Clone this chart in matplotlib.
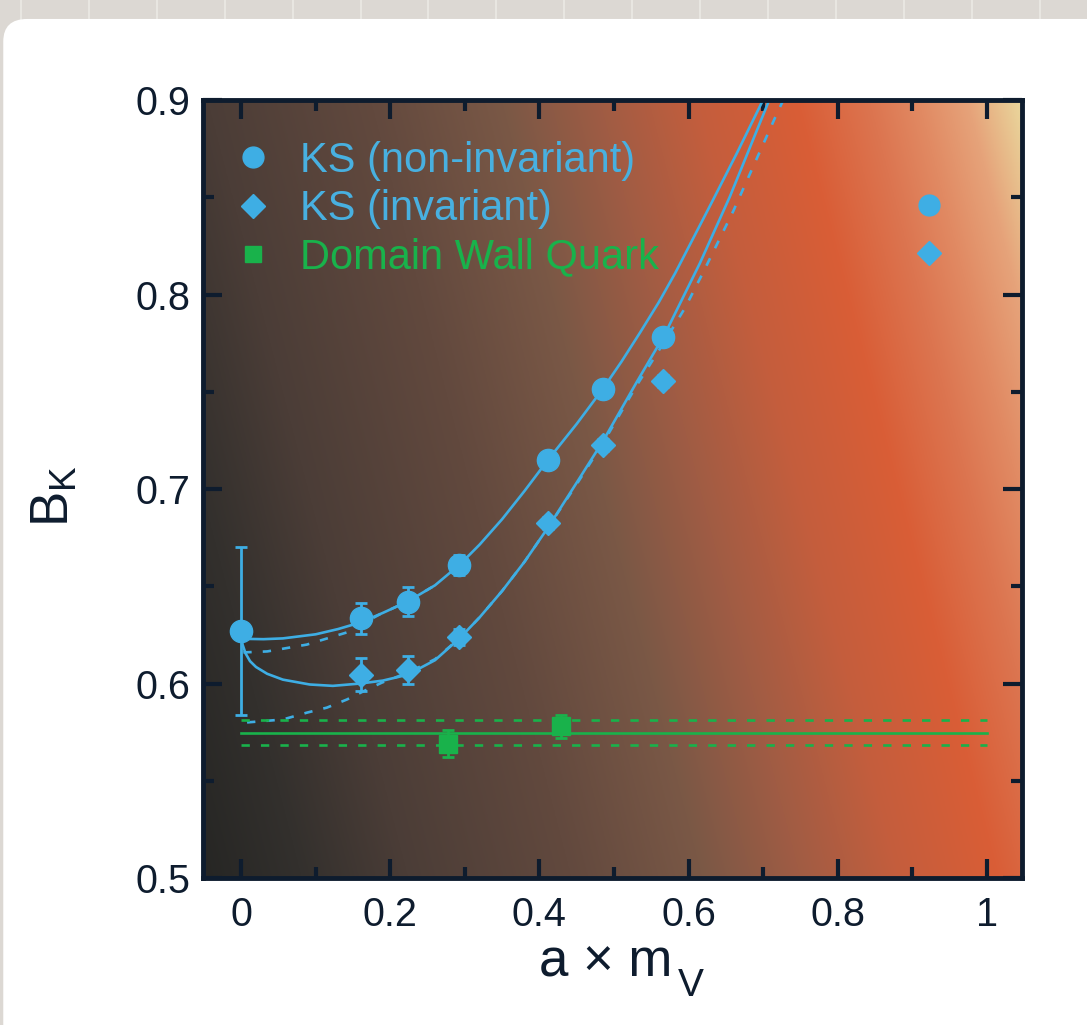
import numpy as np
import matplotlib
matplotlib.use('Agg')
import matplotlib.pyplot as plt
from matplotlib.patches import FancyBboxPatch
from matplotlib.lines import Line2D
from matplotlib.ticker import MultipleLocator

plt.rcParams['font.family'] = ['Liberation Sans', 'DejaVu Sans']
plt.rcParams['mathtext.fontset'] = 'custom'
plt.rcParams['mathtext.rm'] = 'Liberation Sans'
plt.rcParams['mathtext.it'] = 'Liberation Sans:italic'
plt.rcParams['lines.scale_dashes'] = False

# KS (non-invariant) points
ks_x = [0.161, 0.224, 0.292, 0.4115, 0.485, 0.566]
ks_y = [0.6335, 0.642, 0.661, 0.715, 0.7515, 0.778]
ks_err = [0.008, 0.0075, 0.005, 0.004, 0.003, 0.003]
# continuum value at a*mV = 0
ks0_x = [0.0]
ks0_y = [0.627]
ks0_err = [0.043]
# KS (invariant) points
ksi_x = [0.161, 0.224, 0.292, 0.4115, 0.485, 0.566]
ksi_y = [0.6046, 0.607, 0.624, 0.6825, 0.7227, 0.7557]
ksi_err = [0.0085, 0.007, 0.004, 0.003, 0.003, 0.003]
# Domain wall quark points and fit band
dwq_x = [0.2775, 0.429]
dwq_y = [0.569, 0.578]
dwq_err = [0.007, 0.006]
dwq_fit_x = [0.0, 1.0]
dwq_fit = [0.5747, 0.5747]
dwq_lo = [0.5686, 0.5686]
dwq_hi = [0.5814, 0.5814]
# extra markers at the right
extra_circ_x = [0.922]
extra_circ_y = [0.8459]
extra_diam_x = [0.922]
extra_diam_y = [0.8216]

# fit curves
fitA_x = [0.0, 0.03, 0.056, 0.1, 0.13, 0.16, 0.19, 0.224, 0.26, 0.2936, 0.32, 0.35, 0.38,
          0.4115, 0.45, 0.485, 0.51, 0.535, 0.56, 0.582, 0.63, 0.665, 0.7]
fitA_y = [0.623, 0.6228, 0.6232, 0.6253, 0.628, 0.6314, 0.6363, 0.6423, 0.6505, 0.6613, 0.6715,
          0.6845, 0.699, 0.715, 0.7335, 0.7515, 0.7655, 0.7805, 0.796, 0.811, 0.8466, 0.8729, 0.9002]
fitA_dash_x = [0.003, 0.035, 0.088, 0.142, 0.186, 0.224, 0.26]
fitA_dash_y = [0.616, 0.6165, 0.620, 0.6263, 0.6356, 0.6423, 0.6505]
fitB_x = [0.0, 0.002, 0.006, 0.012, 0.02, 0.035, 0.056, 0.092, 0.123, 0.16, 0.19, 0.223,
          0.26, 0.2936, 0.32, 0.35, 0.38, 0.4115, 0.45, 0.485, 0.53, 0.568, 0.615, 0.6555, 0.7065]
fitB_y = [0.626, 0.620, 0.6155, 0.6115, 0.6085, 0.605, 0.602, 0.5995, 0.5988, 0.600, 0.6015,
          0.6045, 0.612, 0.6235, 0.6341, 0.6476, 0.6626, 0.6802, 0.7033, 0.7245, 0.7547,
          0.7795, 0.816, 0.8505, 0.8985]
fitB_dash_x = [0.008, 0.056, 0.088, 0.115, 0.142, 0.164, 0.189, 0.223, 0.26, 0.2936, 0.32,
               0.35, 0.38, 0.4115, 0.45, 0.485, 0.53, 0.568, 0.595, 0.619, 0.66, 0.716, 0.727]
fitB_dash_y = [0.580, 0.5815, 0.585, 0.5876, 0.5918, 0.596, 0.6005, 0.6055, 0.6125, 0.6235,
               0.6341, 0.6476, 0.6626, 0.6802, 0.7025, 0.7235, 0.753, 0.776, 0.793, 0.811,
               0.843, 0.891, 0.9]

labels = ['KS (non-invariant)', 'KS (invariant)', 'Domain Wall Quark']

blue = '#3eaee4'
blue_txt = '#48b0e0'
green = '#19b24b'
navy = '#0e1c2e'

fig = plt.figure(figsize=(10.87, 10.25), dpi=100)
fig.patch.set_facecolor('#dcd8d3')
# page grid behind the card
for gx in np.arange(21, 1087, 67.9):
    fig.add_artist(Line2D([gx / 1087, gx / 1087], [0.97, 1.0], color='#ebe9e5', lw=1.2,
                          transform=fig.transFigure, zorder=-20))
card = FancyBboxPatch((0.003, -0.05), 1.05, 1.0315, boxstyle='round,pad=0,rounding_size=0.022',
                      transform=fig.transFigure, facecolor='white', edgecolor='none', zorder=-10)
fig.add_artist(card)

ax = fig.add_axes([0.1868, 0.1434, 0.7534, 0.759])
xlim = (-0.051, 1.047)
ylim = (0.5, 0.9)

# background gradient
u, v = np.meshgrid(np.linspace(0, 1, 500), np.linspace(0, 1, 400))
s = u + 0.245 * v
stops = [0, 0.12, 0.25, 0.45, 0.61, 0.73, 0.85, 0.97, 1.06, 1.12, 1.18, 1.25]
cols = ['#262624', '#33302d', '#4b3d37', '#62493e', '#7a5846', '#a05c44', '#c45e3d',
        '#d95d36', '#dc7550', '#e18a63', '#e6a37a', '#eadb9f']
rgb = np.array([matplotlib.colors.to_rgb(c) for c in cols])
img = np.dstack([np.interp(s, stops, rgb[:, k]) for k in range(3)])
ax.imshow(img, extent=(xlim[0], xlim[1], ylim[0], ylim[1]), origin='lower', aspect='auto', zorder=0)

lw = 1.9
ax.plot(fitA_x, fitA_y, color=blue, lw=lw, zorder=2)
ax.plot(fitB_x, fitB_y, color=blue, lw=lw, zorder=2)
ax.plot(fitA_dash_x, fitA_dash_y, color=blue, lw=lw, dashes=(6, 8), zorder=2)
ax.plot(fitB_dash_x, fitB_dash_y, color=blue, lw=lw, dashes=(6, 8), zorder=2)

ax.plot(dwq_fit_x, dwq_fit, color=green, lw=lw, zorder=2)
ax.plot(dwq_fit_x, dwq_lo, color=green, lw=lw, dashes=(6, 8), zorder=2)
ax.plot(dwq_fit_x, dwq_hi, color=green, lw=lw, dashes=(6, 8), zorder=2)

eb = dict(elinewidth=2, capsize=4.5, capthick=2, zorder=4, linestyle='none')
ax.errorbar(ks0_x, ks0_y, yerr=ks0_err, fmt='o', ms=16, color=blue, **eb)
ax.errorbar(ks_x, ks_y, yerr=ks_err, fmt='o', ms=16, color=blue, **eb)
ax.errorbar(ksi_x, ksi_y, yerr=ksi_err, fmt='D', ms=12.5, color=blue, **eb)
ax.errorbar(dwq_x, dwq_y, yerr=dwq_err, fmt='s', ms=13, color=green, **eb)
ax.plot(extra_circ_x, extra_circ_y, 'o', ms=15, color=blue, zorder=4)
ax.plot(extra_diam_x, extra_diam_y, 'D', ms=12, color=blue, zorder=4)

handles = [Line2D([], [], marker='o', ms=15, color=blue, ls='none'),
           Line2D([], [], marker='D', ms=12, color=blue, ls='none'),
           Line2D([], [], marker='s', ms=12, color=green, ls='none')]
ax.legend(handles, labels, loc='upper left', bbox_to_anchor=(0.0, 0.985), frameon=False,
          fontsize=30, labelcolor=[blue_txt, blue_txt, green], handlelength=1.0,
          handletextpad=0.62, labelspacing=0.2, borderaxespad=0.3)

ax.set_xlim(xlim)
ax.set_ylim(ylim)
ax.xaxis.set_major_locator(MultipleLocator(0.2))
ax.xaxis.set_minor_locator(MultipleLocator(0.1))
ax.yaxis.set_major_locator(MultipleLocator(0.1))
ax.yaxis.set_minor_locator(MultipleLocator(0.05))
ax.set_xticks([0, 0.2, 0.4, 0.6, 0.8, 1.0])
ax.set_xticklabels(['0', '0.2', '0.4', '0.6', '0.8', '1'])
ax.tick_params(which='both', direction='in', top=True, right=True, color=navy, width=3,
               labelsize=28.5, labelcolor=navy)
ax.tick_params(which='major', length=14)
ax.tick_params(which='minor', length=8)
ax.tick_params(axis='x', pad=13)
ax.tick_params(axis='y', pad=9)
for sp in ax.spines.values():
    sp.set_color(navy)
    sp.set_linewidth(3.5)

# axis titles
xl = ax.text(0.492, -0.127, 'a × m', transform=ax.transAxes, ha='center', va='baseline',
             fontsize=38, color=navy)
ax.annotate('V', xy=(1, 0), xycoords=xl, xytext=(4, -12), textcoords='offset points',
            ha='left', va='bottom', fontsize=28, color=navy)
ax.text(-0.181, 0.491, r'B$_\mathrm{K}$', transform=ax.transAxes, rotation=90,
        ha='center', va='center', fontsize=38, color=navy)

fig.savefig('out.png', dpi=100, facecolor=fig.get_facecolor())
